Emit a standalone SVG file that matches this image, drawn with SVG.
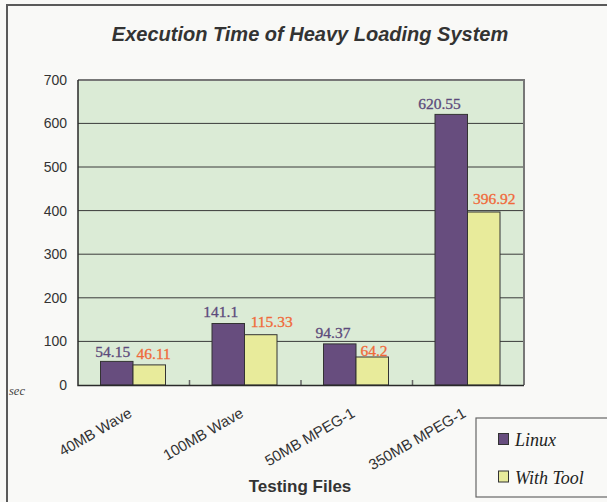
<svg xmlns="http://www.w3.org/2000/svg" width="607" height="502" viewBox="0 0 607 502">
<style>
.ylab{font-family:"Liberation Sans",Arial,sans-serif;font-size:14px;fill:#333;text-anchor:end}
.xlab{font-family:"Liberation Sans",Arial,sans-serif;font-size:15px;fill:#333;text-anchor:end}
.val{font-family:"Liberation Serif","Times New Roman",serif;font-size:15.5px;text-anchor:middle;stroke-width:0.3}
.vl{fill:#5b4a7b;stroke:#5b4a7b}
.vt{fill:#f0693a;stroke:#f0693a}
.grid{stroke:#3a3a3a;stroke-width:1}
.linux{fill:#674d7e;stroke:#333;stroke-width:1}
.tool{fill:#e8eb9b;stroke:#333;stroke-width:1}
.leg{font-family:"Liberation Serif","Times New Roman",serif;font-style:italic;font-size:18px;fill:#222}
</style>
<rect x="0" y="0" width="607" height="502" fill="#f9f9f7"/>
<rect x="7" y="5" width="620" height="520" fill="#f9f9f7" stroke="#5a5a5a" stroke-width="2"/>
<text x="310" y="41" text-anchor="middle" font-family="Liberation Sans,Arial,sans-serif" font-size="20" font-weight="bold" font-style="italic" fill="#333">Execution Time of Heavy Loading System</text>
<g id="plot">
<rect x="78" y="80" width="446" height="305" fill="#dbebd6"/>
<line class="grid" x1="78" y1="341.4" x2="524" y2="341.4"/>
<line class="grid" x1="78" y1="297.8" x2="524" y2="297.8"/>
<line class="grid" x1="78" y1="254.2" x2="524" y2="254.2" stroke="#555"/>
<line class="grid" x1="78" y1="210.6" x2="524" y2="210.6" stroke="#555"/>
<line class="grid" x1="78" y1="167" x2="524" y2="167"/>
<line class="grid" x1="78" y1="123.4" x2="524" y2="123.4"/>
<path d="M78,80 H524 V385" fill="none" stroke="#777" stroke-width="2"/>
<path d="M189.5,385 V380 M301,385 V380 M412.5,385 V380" stroke="#666" stroke-width="1.5"/>
</g>
<g id="yaxis">
<text class="ylab" x="67" y="390">0</text>
<text class="ylab" x="67" y="346.4">100</text>
<text class="ylab" x="67" y="302.8">200</text>
<text class="ylab" x="67" y="259.2">300</text>
<text class="ylab" x="67" y="215.6">400</text>
<text class="ylab" x="67" y="172">500</text>
<text class="ylab" x="67" y="128.4">600</text>
<text class="ylab" x="67" y="84.8">700</text>
<text x="9" y="395" font-family="Liberation Serif,Times New Roman,serif" font-style="italic" font-size="12.5" fill="#444">sec</text>
</g>
<g id="bars">
<rect class="linux" x="100.5" y="361.4" width="32.5" height="23.6"/>
<rect class="tool" x="133" y="364.9" width="32.5" height="20.1"/>
<rect class="linux" x="212" y="323.5" width="32.5" height="61.5"/>
<rect class="tool" x="244.5" y="334.7" width="32.5" height="50.3"/>
<rect class="linux" x="323.5" y="343.9" width="32.5" height="41.1"/>
<rect class="tool" x="356" y="357" width="32.5" height="28"/>
<rect class="linux" x="435" y="114.4" width="32.5" height="270.6"/>
<rect class="tool" x="467.5" y="212" width="32.5" height="173"/>
</g>
<path d="M78,80 V385.5 H524" fill="none" stroke="#2a2a2a" stroke-width="1.5"/>
<g id="values">
<text class="val vl" x="112.8" y="357">54.15</text>
<text class="val vt" x="153.7" y="359">46.11</text>
<text class="val vl" x="220.8" y="316.5">141.1</text>
<text class="val vt" x="271.7" y="326.5">115.33</text>
<text class="val vl" x="333" y="337.5">94.37</text>
<text class="val vt" x="374" y="355.5">64.2</text>
<text class="val vl" x="439.5" y="108.5">620.55</text>
<text class="val vt" x="494.3" y="204">396.92</text>
</g>
<g id="xaxis">
<text class="xlab" transform="translate(133,416) rotate(-30)">40MB Wave</text>
<text class="xlab" transform="translate(244.5,416) rotate(-30)">100MB Wave</text>
<text class="xlab" transform="translate(356,416) rotate(-30)">50MB MPEG-1</text>
<text class="xlab" transform="translate(467,416) rotate(-30)">350MB MPEG-1</text>
<text x="300" y="492" text-anchor="middle" font-family="Liberation Sans,Arial,sans-serif" font-size="17" font-weight="bold" fill="#333">Testing Files</text>
</g>
<g id="legend">
<rect x="476" y="418" width="140" height="79" fill="#f9f9f7" stroke="#666" stroke-width="1.2"/>
<rect x="498.5" y="433.5" width="10" height="11" fill="#674d7e" stroke="#333" stroke-width="1"/>
<text class="leg" x="515" y="446">Linux</text>
<rect x="498.5" y="471" width="10" height="11" fill="#e8eb9b" stroke="#333" stroke-width="1"/>
<text class="leg" x="515" y="483.5">With Tool</text>
</g>
</svg>
